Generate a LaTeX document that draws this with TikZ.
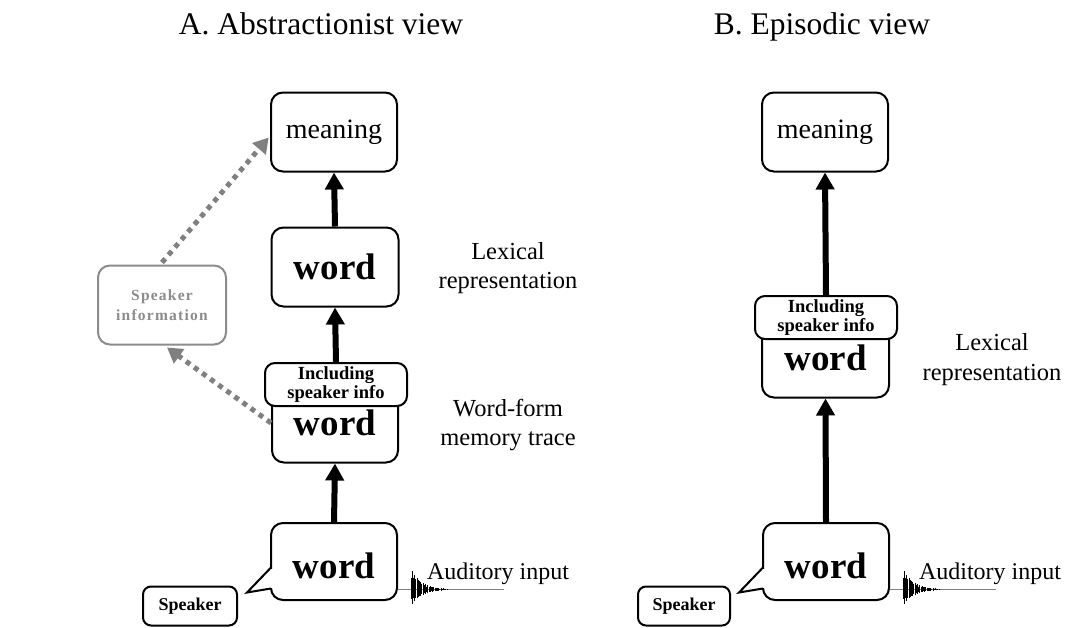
\documentclass[tikz,border=0pt]{standalone}
\usepackage{fontspec}
\setmainfont{Liberation Serif}
\newfontfamily\spacedfont[LetterSpace=8]{Liberation Serif}
\usetikzlibrary{arrows.meta,calc}
\definecolor{dotgray}{HTML}{808080}
\definecolor{boxgray}{HTML}{8C8C8C}
\begin{document}
\begin{tikzpicture}[x=1pt,y=-1pt,
  box/.style={draw, line width=2pt, rounded corners=12pt, fill=white, inner sep=0pt, minimum width=126pt, minimum height=79pt},
  incbox/.style={draw, line width=2pt, rounded corners=10pt, fill=white, inner sep=0pt, minimum width=142pt, minimum height=43pt, align=center, font=\fontsize{18.5}{19.5}\selectfont\bfseries},
  wordf/.style={font=\fontsize{37}{40}\selectfont\bfseries},
  meanf/.style={font=\fontsize{28}{30}\selectfont},
  arr/.style={line width=6pt, -{Triangle[width=18pt,length=17pt]}},
  dots/.style={draw=dotgray, line width=5pt, dash pattern=on 5pt off 5pt, -{Triangle[width=17pt,length=15pt,fill=dotgray]}},
  lab/.style={align=center, font=\fontsize{24.5}{29.5}\selectfont},
  spk/.style={draw, line width=2pt, rounded corners=8pt, inner sep=0pt, minimum width=94pt, minimum height=39pt, font=\fontsize{18}{20}\selectfont\bfseries},
  titlef/.style={anchor=base, font=\fontsize{31.5}{34}\selectfont},
  bubble/.style={box, wordf, minimum height=77pt, text height=33pt, text depth=0pt},
  wave/.pic={
    \draw[gray, line width=1pt] (0,0) -- (106,0);
    \foreach \i in {0,...,30}{
      \pgfmathsetmacro\amp{21*exp(-\i/9)*(0.55+0.45*abs(sin(\i*97)))}
      \draw[line width=0.8pt] (13+\i*1.2,-\amp) -- (13+\i*1.2,0.8*\amp);
    }
  }
]
\path[fill=white, use as bounding box] (0,0) rectangle (1065,627);

% ---------- Panel A ----------
\node[titlef] (ta) at (321,34) {A. Abstractionist view};
\node[box, meanf] (m1) at (334,132) {meaning};
\node[box, wordf, minimum width=127pt] (lw1) at (335,267) {word};
\node[box, wordf] (wf1) at (335,423) {word};
\node[incbox] (inc1) at (336,384.5) {Including\\speaker info};
\node[bubble] (bub1) at (334,561.5) {word};
\node[spk] (sp1) at (190,606) {Speaker};
\node[box, draw=boxgray, text=boxgray, align=center, minimum width=128pt,
      font=\fontsize{15.5}{20}\selectfont\spacedfont\bfseries] (si) at (162,305) {Speaker\\information};
\node[lab] (lex1) at (508,268) {Lexical\\representation};
\node[lab] (wfl) at (508,425) {Word-form\\memory trace};
\node[lab, font=\fontsize{24}{28}\selectfont] (aud1) at (498,574) {Auditory input};

% speech tail A
\coordinate (tip1) at ($(bub1.west)+(-23,31)$);
\draw[white, line width=4pt] ($(bub1.west)+(1,7)$) -- ($(bub1.west)+(1,26)$);
\draw[line width=2pt, line join=miter] ($(bub1.west)+(1,6)$) -- (tip1) -- ($(bub1.west)+(1,27)$);
\pic at ([yshift=-28pt]bub1.east) {wave};

\draw[arr] (bub1.north) -- (wf1.south);
\draw[arr] (inc1.north) -- (lw1.south);
\draw[arr] (lw1.north) -- (m1.south);
\draw[dots] (wf1.west) -- ([xshift=5pt,yshift=-2pt]si.south);
\draw[dots, shorten >=2pt] ([yshift=2pt]si.north) -- ([yshift=-4pt]m1.west);

% ---------- Panel B ----------
\node[titlef] (tb) at (822,34) {B. Episodic view};
\node[box, meanf] (m2) at (825,132) {meaning};
\node[box, wordf, minimum width=127pt] (wf2) at (825.5,358) {word};
\node[incbox] (inc2) at (826,317.5) {Including\\speaker info};
\node[bubble] (bub2) at (826,561.5) {word};
\node[spk, minimum width=92pt] (sp2) at (684,606) {Speaker};
\node[lab, font=\fontsize{24.5}{30}\selectfont] (lex2) at (992,360) {Lexical\\representation};
\node[lab, font=\fontsize{24}{28}\selectfont] (aud2) at (990,574) {Auditory input};

% speech tail B
\coordinate (tip2) at ($(bub2.west)+(-23,31)$);
\draw[white, line width=4pt] ($(bub2.west)+(1,7)$) -- ($(bub2.west)+(1,26)$);
\draw[line width=2pt, line join=miter] ($(bub2.west)+(1,6)$) -- (tip2) -- ($(bub2.west)+(1,27)$);
\pic at ([yshift=-28pt]bub2.east) {wave};

\draw[arr] (bub2.north) -- (wf2.south);
\draw[arr] (inc2.north) -- (m2.south);
\end{tikzpicture}
\end{document}
